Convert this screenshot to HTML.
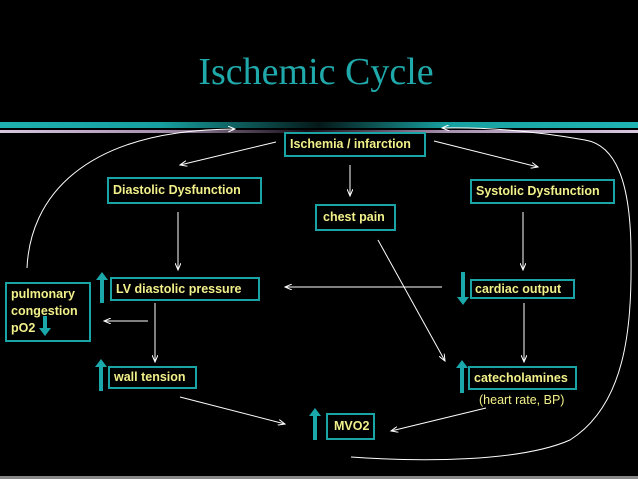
<!DOCTYPE html>
<html><head><style>
html,body{margin:0;padding:0;background:#000;}
body{width:638px;height:479px;position:relative;overflow:hidden;font-family:"Liberation Sans",sans-serif;}
.t{position:absolute;left:0;top:50px;width:632px;text-align:center;font-family:"Liberation Serif",serif;font-size:38px;color:#20a9ab;}
.b{position:absolute;border:2px solid #1aa4a6;color:#f2f08a;font-weight:bold;font-size:12.5px;line-height:20px;box-sizing:border-box;padding:0 4px;white-space:nowrap;}
.band1{position:absolute;left:0;top:122px;width:638px;height:6px;background:linear-gradient(90deg,#1eb0b0 0%,#17a0a0 25%,#051818 50%,#17a0a0 70%,#20b4b4 100%);}
.band2{position:absolute;left:0;top:130px;width:638px;height:3px;background:linear-gradient(90deg,#d8c8e0 0%,#a890b0 25%,#150e18 48%,#a890b0 70%,#d8c8e0 100%);}
.bot{position:absolute;left:0;top:476px;width:638px;height:3px;background:#888;}
</style></head><body>
<div class="t">Ischemic Cycle</div>
<div class="band1"></div><div class="band2"></div>
<svg width="638" height="479" style="position:absolute;left:0;top:0">
<defs><marker id="a" markerWidth="8" markerHeight="6" refX="7" refY="3" orient="auto" markerUnits="userSpaceOnUse"><path d="M0,0 L7,3 L0,6" fill="none" stroke="#fff" stroke-width="1"/></marker></defs>
<g stroke="#fff" stroke-width="1" fill="none" marker-end="url(#a)">
<line x1="276" y1="142" x2="180" y2="165"/>
<line x1="350" y1="165" x2="350" y2="196"/>
<line x1="434" y1="141" x2="538" y2="167"/>
<line x1="178" y1="212" x2="178" y2="270"/>
<line x1="523" y1="212" x2="523" y2="270"/>
<line x1="442" y1="287" x2="285" y2="287"/>
<line x1="148" y1="321" x2="104" y2="321"/>
<line x1="155" y1="303" x2="155" y2="362"/>
<line x1="180" y1="397" x2="285" y2="424"/>
<line x1="378" y1="240" x2="445" y2="361"/>
<line x1="524" y1="303" x2="524" y2="362"/>
<line x1="486" y1="408" x2="391" y2="431"/>
<path d="M27,268 C30,200 80,130 235,129"/>
<path d="M351,457 C420,462 520,462 570,440 C625,405 632,330 631,255 C631,180 615,145 585,140 C540,132 490,127 442,128"/>
</g>
<g fill="#1aa8aa">
<rect x="100" y="278" width="4" height="25"/><path d="M96,280 L102,272 L108,280Z"/>
<rect x="99" y="365" width="4" height="26"/><path d="M95,367 L101,359 L107,367Z"/>
<rect x="460" y="366" width="4" height="27"/><path d="M456,368 L462,360 L468,368Z"/>
<rect x="313" y="414" width="4" height="26"/><path d="M309,416 L315,408 L321,416Z"/>
<rect x="461" y="272" width="4" height="26"/><path d="M457,297 L463,305 L469,297Z"/>
<rect x="43" y="316" width="4" height="13"/><path d="M39,328 L45,336 L51,328Z"/>
</g>
</svg>
<div class="b" style="left:284px;top:132px;width:142px;height:25px;line-height:21px">Ischemia / infarction</div>
<div class="b" style="left:107px;top:177px;width:155px;height:27px;line-height:23px">Diastolic Dysfunction</div>
<div class="b" style="left:315px;top:204px;width:81px;height:27px;line-height:23px;padding-left:6px">chest pain</div>
<div class="b" style="left:470px;top:179px;width:145px;height:25px;line-height:21px">Systolic Dysfunction</div>
<div class="b" style="left:110px;top:277px;width:150px;height:24px">LV diastolic pressure</div>
<div class="b" style="left:5px;top:282px;width:86px;height:60px;line-height:17px;padding-top:2px">pulmonary<br>congestion<br>pO2</div>
<div class="b" style="left:470px;top:279px;width:105px;height:20px;line-height:16px;padding:0 3px">cardiac output</div>
<div class="b" style="left:108px;top:366px;width:89px;height:23px;line-height:19px">wall tension</div>
<div class="b" style="left:468px;top:366px;width:109px;height:24px;line-height:20px">catecholamines</div>
<div style="position:absolute;left:479px;top:393px;color:#f2f08a;font-size:12.5px">(heart rate, BP)</div>
<div class="b" style="left:326px;top:413px;width:49px;height:27px;line-height:23px;padding:0 6px">MVO2</div>
<div class="bot"></div>
</body></html>
